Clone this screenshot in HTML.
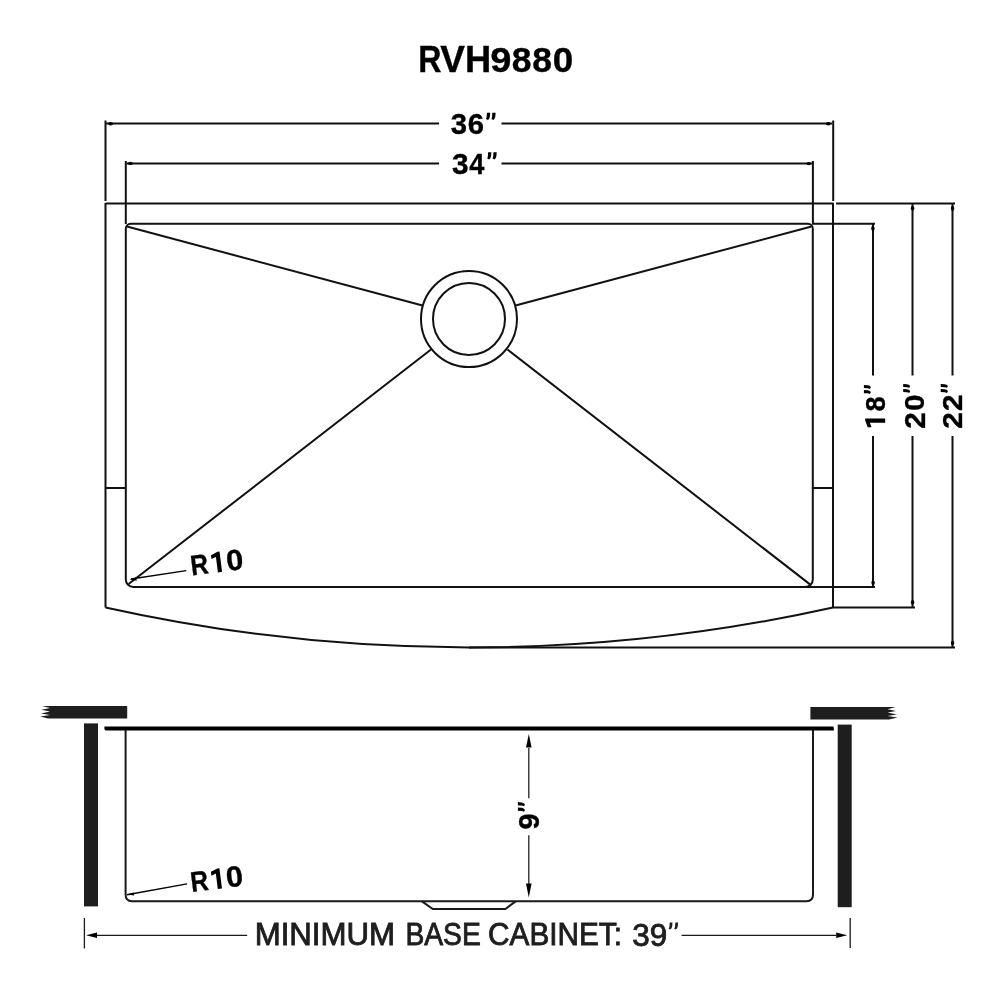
<!DOCTYPE html>
<html><head><meta charset="utf-8">
<style>
html,body{margin:0;padding:0;background:#fff;width:1000px;height:1000px;overflow:hidden}
svg{display:block;filter:grayscale(1)}
text{font-family:"Liberation Sans",sans-serif}
</style></head>
<body>
<svg width="1000" height="1000" viewBox="0 0 1000 1000">
<rect width="1000" height="1000" fill="#fff"/>
<!-- Title -->

<g fill="none" stroke="#111" stroke-width="2" stroke-linecap="butt">
  <!-- 36 dim -->
  <path d="M105.5 120.5V201 M833.2 120.5V201"/>
  <path d="M106 123.5H439 M501.5 123.5H832"/>
  <!-- 34 dim -->
  <path d="M125.8 161V224 M812.9 161V224"/>
  <path d="M126.5 163.5H439 M501.5 163.5H812.5"/>
  <!-- outer sink -->
  <path d="M105.5 203.5H833.5 M836 203.5H955"/>
  <path d="M105.5 203V607.5 M833 203V607.5"/>
  <path d="M105.5 607.5 A1676 1676 0 0 0 833 607.5"/>
  <path d="M833 607.5H915 M469 647.5H955"/>
  <!-- inner basin -->
  <path d="M131 223.8H807.8 A5 5 0 0 1 812.8 228.8V579.5 A7.5 7.5 0 0 1 805.3 587H133.3 A7.5 7.5 0 0 1 125.8 579.5V228.8 A5 5 0 0 1 130.8 223.8Z"/>
  <path d="M812 223.8H875 M806 587H875"/>
  <!-- side short lines -->
  <path d="M105.5 488H126 M813 488H833"/>
  <!-- drain -->
  <circle cx="469" cy="319" r="48"/>
  <circle cx="469" cy="319" r="36"/>
  <!-- diagonals -->
  <path d="M127 226.5L422.5 305.5 M811.5 226.5L515.5 305.5 M128.6 584L431 349.5 M810 584.4L507.5 349.5"/>
  <!-- right dims -->
  <path d="M873 224V375.5 M873 436V587"/>
  <path d="M912.5 203.5V375.5 M912.5 436V607.5"/>
  <path d="M952.5 203.5V375.5 M952.5 436V647.5"/>
</g>


<!-- small arrowheads -->
<g fill="#000">
  <ellipse cx="110.6" cy="123.7" rx="2.4" ry="1.7"/><ellipse cx="828.3" cy="123.8" rx="2.4" ry="1.7"/>
  <ellipse cx="130.4" cy="163.4" rx="2.4" ry="1.7"/><ellipse cx="808.8" cy="163.6" rx="2.4" ry="1.7"/>
  <ellipse cx="872.9" cy="228.4" rx="1.7" ry="2.4"/><ellipse cx="873.1" cy="582.8" rx="1.7" ry="2.4"/>
  <ellipse cx="912.6" cy="208.3" rx="1.7" ry="2.4"/><ellipse cx="912.6" cy="602.3" rx="1.7" ry="2.4"/>
  <ellipse cx="952.6" cy="208.5" rx="1.7" ry="2.4"/><ellipse cx="952.6" cy="643.1" rx="1.7" ry="2.4"/>
  <path d="M129.5 579.6L136 577.6L136.8 580.8Z M127 894.6L133.5 892.4L134.2 895.6Z"/>
</g>
<!-- R10 leaders -->
<g stroke="#000" stroke-width="1.4" fill="none">
  <path d="M186.3 570.6L131 579"/>
  <path d="M187.1 883.9L127 894.8"/>
</g>

<!-- lower view -->
<g fill="#1e1e1e">
  <path d="M127.2 706H42 L50 708.1 L41.4 709.8 L50 711.6 L41 713.4 L50 715 L40.2 716.4 L48 718.4 H127.2Z"/>
  <path d="M810.4 706.9H895.7 L887.6 709.3 L896 711 L887.6 712.6 L896.6 714.4 L887.6 715.9 L897.5 717.4 L889 719.6 H810.4Z"/>
  <rect x="84" y="723.4" width="14" height="183"/>
  <rect x="837.7" y="724.6" width="14" height="182.6"/>
</g>
<g fill="none" stroke="#000" stroke-width="2">
  <path d="M105 728.4H833"/>
</g>
<path d="M104.4 726.4H833.5L834 730.6H106.5Q104.4 730.6 104.4 728.4Z" fill="#000"/>
<g fill="none" stroke="#1a1a1a" stroke-width="2">
  <path d="M125.6 730V894.5 Q125.6 901.2 132 901.2H806.5 Q813 901.2 813 894.5V730"/>
  <path d="M422 901.4L432.8 909H505.4L515.6 901.4"/>
</g>
<!-- 9 dim -->
<g stroke="#222" stroke-width="1.3" fill="none">
  <path d="M528.8 748V798.2 M528.8 835.3V884"/>
</g>
<path d="M528.8 734L526 747.6H531.6Z M528.8 897.6L526 883.6H531.6Z" fill="#000"/>
<!-- bottom dim -->
<g stroke="#1a1a1a" stroke-width="1.3" fill="none">
  <path d="M84.4 918V948.4 M850.2 918V948"/>
  <path d="M96 935.3H247.2 M681.6 935.3H836"/>
</g>
<path d="M86 935.3L97 932.5V938.1Z M847.2 935.3L836.2 932.5V938.1Z" fill="#000"/>
<g font-weight="bold" fill="#000" stroke="#000" stroke-width="0.35">
<g transform="translate(0 0)"><text transform="translate(418.35 72.4) scale(0.8880 1)" font-size="36.19">R</text></g>
<g transform="translate(0 0)"><text transform="translate(440.25 72.4) scale(1.0235 1)" font-size="36.19">V</text></g>
<g transform="translate(0 0)"><text transform="translate(464.88 72.4) scale(1.0011 1)" font-size="36.19">H</text></g>
<g transform="translate(0 0)"><text transform="translate(490.28 72.25) scale(1.0589 1)" font-size="35.88">9</text></g>
<g transform="translate(0 0)"><text transform="translate(511.67 72.25) scale(0.9881 1)" font-size="35.88">8</text></g>
<g transform="translate(0 0)"><text transform="translate(532.37 72.25) scale(0.9881 1)" font-size="35.88">8</text></g>
<g transform="translate(0 0)"><text transform="translate(552.74 72.25) scale(1.0257 1)" font-size="35.88">0</text></g>
</g>
<g font-weight="bold" fill="#000" stroke="#000" stroke-width="0.35">
<g transform="translate(0 0)"><text transform="translate(450.8 134.39) scale(0.9773 1)" font-size="29.95">3</text></g>
<g transform="translate(0 0)"><text transform="translate(467.8 134.44) scale(0.9892 1)" font-size="29.59">6</text></g>
<g transform="translate(0 0)"><text transform="translate(451.89 173.79) scale(1.0022 1)" font-size="29.81">3</text></g>
<g transform="translate(0 0)"><text transform="translate(469.26 173.62) scale(0.9275 1)" font-size="29.29">4</text></g>
</g>
<g fill="#000">
<g transform="translate(0 0)"><path transform="translate(486 112.8) scale(1.0000 1.0000)" d="M0.9 0H4.2L3.9 3.8Q3.6 6 2 7.2L0 6.2Q0.6 5 0.7 3.8Z M6.3 0H9.6L9.3 3.8Q9 6 7.4 7.2L5.4 6.2Q6 5 6.1 3.8Z"/></g>
<g transform="translate(0 0)"><path transform="translate(487.2 152.2) scale(0.9896 1.0139)" d="M0.9 0H4.2L3.9 3.8Q3.6 6 2 7.2L0 6.2Q0.6 5 0.7 3.8Z M6.3 0H9.6L9.3 3.8Q9 6 7.4 7.2L5.4 6.2Q6 5 6.1 3.8Z"/></g>
</g>
<g font-weight="bold" fill="#000" stroke="#000" stroke-width="0.35">
<g stroke="none"><g transform="translate(885.3 428) rotate(-90)"><path transform="translate(0.7 -0.1) scale(0.9888 0.9804)" d="M8.9 0V-20.4H6.9L0 -17.9V-14L4.7 -15.6V0Z"/></g></g>
<g transform="translate(885.3 428) rotate(-90)"><text transform="translate(16.61 -0.25) scale(0.9573 1)" font-size="28.46">8</text></g>
<g stroke="none"><g transform="translate(885.3 428) rotate(-90)"><path transform="translate(34 -21.4) scale(0.9479 0.9722)" d="M0.9 0H4.2L3.9 3.8Q3.6 6 2 7.2L0 6.2Q0.6 5 0.7 3.8Z M6.3 0H9.6L9.3 3.8Q9 6 7.4 7.2L5.4 6.2Q6 5 6.1 3.8Z"/></g></g>
<g transform="translate(924.9 428) rotate(-90)"><text transform="translate(-0.76 -0.18) scale(1.0432 1)" font-size="28.57">2</text></g>
<g transform="translate(924.9 428) rotate(-90)"><text transform="translate(16.91 -0.45) scale(1.0484 1)" font-size="28.18">0</text></g>
<g stroke="none"><g transform="translate(924.9 428) rotate(-90)"><path transform="translate(35.1 -21.7) scale(0.9375 0.9722)" d="M0.9 0H4.2L3.9 3.8Q3.6 6 2 7.2L0 6.2Q0.6 5 0.7 3.8Z M6.3 0H9.6L9.3 3.8Q9 6 7.4 7.2L5.4 6.2Q6 5 6.1 3.8Z"/></g></g>
<g transform="translate(962.4 428) rotate(-90)"><text transform="translate(-0.76 -0.18) scale(1.0591 1)" font-size="28.14">2</text></g>
<g transform="translate(962.4 428) rotate(-90)"><text transform="translate(17.04 -0.18) scale(1.0591 1)" font-size="28.14">2</text></g>
<g stroke="none"><g transform="translate(962.4 428) rotate(-90)"><path transform="translate(35.1 -21.7) scale(0.9375 1.0139)" d="M0.9 0H4.2L3.9 3.8Q3.6 6 2 7.2L0 6.2Q0.6 5 0.7 3.8Z M6.3 0H9.6L9.3 3.8Q9 6 7.4 7.2L5.4 6.2Q6 5 6.1 3.8Z"/></g></g>
<g transform="translate(539.9 829) rotate(-90)"><text transform="translate(-0.43 -0.46) scale(1.0092 1)" font-size="28.74">9</text></g>
<g stroke="none"><g transform="translate(539.9 829) rotate(-90)"><path transform="translate(17.3 -22) scale(1.0000 0.9861)" d="M0.9 0H4.2L3.9 3.8Q3.6 6 2 7.2L0 6.2Q0.6 5 0.7 3.8Z M6.3 0H9.6L9.3 3.8Q9 6 7.4 7.2L5.4 6.2Q6 5 6.1 3.8Z"/></g></g>
<g transform="translate(193.2 575.5) rotate(-7.2)"><text transform="translate(-1.37 -0.18) scale(0.8676 1)" font-size="28.42">R</text></g>
<g stroke="none"><g transform="translate(193.2 575.5) rotate(-7.2)"><path transform="translate(20.2 0) scale(1.0000 1.0000)" d="M8.9 0V-20.4H6.9L0 -17.9V-14L4.7 -15.6V0Z"/></g></g>
<g transform="translate(193.2 575.5) rotate(-7.2)"><text transform="translate(34.56 -0.16) scale(1.0540 1)" font-size="29.03">0</text></g>
<g transform="translate(193.1 892.1) rotate(-7.2)"><text transform="translate(-1.37 -0.18) scale(0.8676 1)" font-size="28.42">R</text></g>
<g stroke="none"><g transform="translate(193.1 892.1) rotate(-7.2)"><path transform="translate(20.2 0) scale(1.0000 1.0000)" d="M8.9 0V-20.4H6.9L0 -17.9V-14L4.7 -15.6V0Z"/></g></g>
<g transform="translate(193.1 892.1) rotate(-7.2)"><text transform="translate(34.56 -0.16) scale(1.0540 1)" font-size="29.03">0</text></g>
</g>
<g fill="#1e1e1e" stroke="#1e1e1e" stroke-width="0.85">
<g transform="translate(0 0)"><text transform="translate(254.66 945.38) scale(1.0253 1)" font-size="30.45">MINIMUM</text></g>
<g transform="translate(0 0)"><text transform="translate(405.4 945.38) scale(0.9292 1)" font-size="30.45">BASE</text></g>
<g transform="translate(0 0)"><text transform="translate(488.11 945.38) scale(0.9775 1)" font-size="30.45">CABINET:</text></g>
<g transform="translate(0 0)"><text transform="translate(632.23 945.57) scale(1.0208 1)" font-size="30.86">39</text></g>
<g stroke="none"><g transform="translate(0 0)"><path transform="translate(668.6 922.6) scale(1.0000 1.0000)" d="M1.1 0H3.9L3.6 3.6Q3.3 5.9 1.6 7L0 6.2Q0.8 5 0.9 3.6Z M6.7 0H9.5L9.2 3.6Q8.9 5.9 7.2 7L5.6 6.2Q6.4 5 6.5 3.6Z"/></g></g>
</g>
</svg>
</body></html>
